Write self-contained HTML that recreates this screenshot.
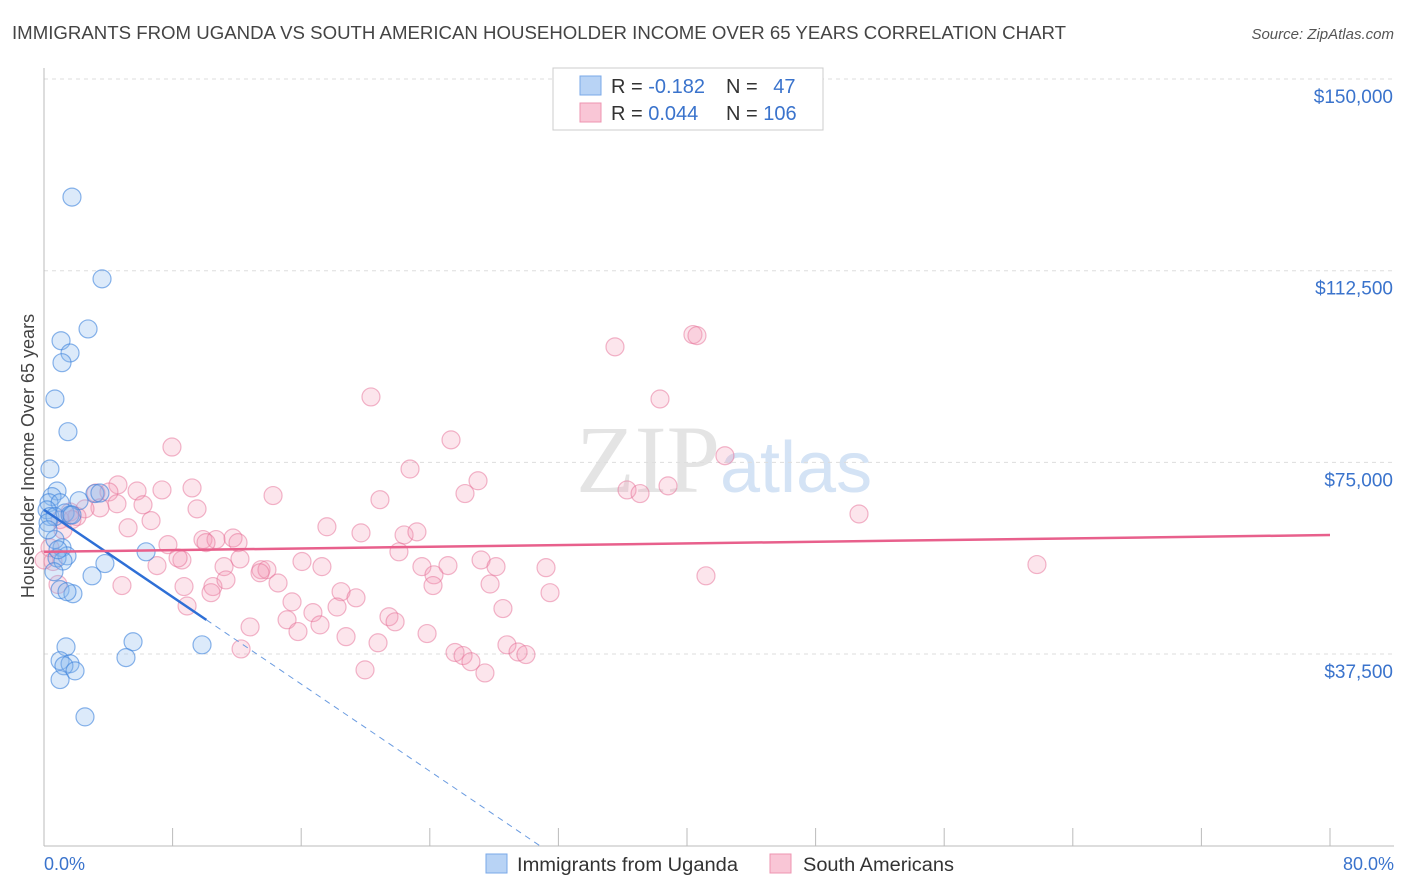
<!DOCTYPE html>
<html><head><meta charset="utf-8"><style>
body{margin:0;background:#fff;font-family:"Liberation Sans",sans-serif}
svg{display:block}
</style></head><body>
<svg id="chart" width="1406" height="892">
<text x="12" y="39" font-size="18" fill="#444" textLength="1054" lengthAdjust="spacingAndGlyphs">IMMIGRANTS FROM UGANDA VS SOUTH AMERICAN HOUSEHOLDER INCOME OVER 65 YEARS CORRELATION CHART</text>
<text x="1394" y="39" font-size="15" fill="#555" font-style="italic" text-anchor="end">Source: ZipAtlas.com</text>
<text x="720" y="492" font-size="96" fill="#e4e4e4" font-family="Liberation Serif,serif" text-anchor="end">ZIP</text>
<text x="720" y="492" font-size="72" fill="#d4e3f5">atlas</text>
<g id="grid"></g><g id="axes"></g><g id="pts"></g><g id="lines"></g>
<text transform="translate(34,456) rotate(-90)" font-size="18" fill="#444" text-anchor="middle">Householder Income Over 65 years</text>
<g>
<rect x="553" y="68" width="270" height="62" fill="#fff" stroke="#ccc"/>
<rect x="580" y="76" width="21" height="19" fill="#b8d3f5" stroke="#7aa8e8"/>
<rect x="580" y="103" width="21" height="19" fill="#f9c6d6" stroke="#ee94b0"/>
<text x="611" y="93" font-size="20" fill="#333">R = <tspan fill="#3a73cc">-0.182</tspan></text>
<text x="726" y="93" font-size="20" fill="#333">N = <tspan fill="#3a73cc" dx="10">47</tspan></text>
<text x="611" y="120" font-size="20" fill="#333">R = <tspan fill="#3a73cc">0.044</tspan></text>
<text x="726" y="120" font-size="20" fill="#333">N = <tspan fill="#3a73cc">106</tspan></text>
</g>
<g>
<rect x="486" y="854" width="21" height="19" fill="#b8d3f5" stroke="#7aa8e8"/>
<text x="517" y="871" font-size="19" fill="#333" textLength="221" lengthAdjust="spacingAndGlyphs">Immigrants from Uganda</text>
<rect x="770" y="854" width="21" height="19" fill="#f9c6d6" stroke="#ee94b0"/>
<text x="803" y="871" font-size="19" fill="#333" textLength="151" lengthAdjust="spacingAndGlyphs">South Americans</text>
</g>
</svg>
<script>
const yTicks=[37500,75000,112500,150000];
const yTickLabels=["$37,500","$75,000","$112,500","$150,000"];
const xTicks=[0,8,16,24,32,40,48,56,64,72,80];
const xEndLabels=["0.0%","80.0%"];
const blueX=[1.74,3.61,2.74,1.06,1.62,1.12,0.68,1.49,0.37,0.81,0.50,0.31,1.00,2.18,0.19,0.37,0.68,0.25,1.31,1.62,3.17,1.12,1.43,0.81,1.18,0.62,1.00,1.80,1.43,3.79,2.99,6.35,1.37,1.00,1.62,1.24,1.93,1.00,5.54,5.10,9.83,2.55,0.68,0.87,0.25,1.74,3.48];
const blueY=[126.9,110.9,101.1,98.8,96.4,94.5,87.4,81.0,73.7,69.4,68.3,67.1,67.1,67.5,65.7,64.4,64.4,63.2,65.1,64.7,68.9,58.3,56.7,56.3,55.7,53.6,50.1,49.3,49.7,55.2,52.8,57.5,38.9,36.2,35.6,35.2,34.2,32.5,39.9,36.8,39.3,25.2,59.9,57.9,61.8,64.7,69.0];
const pinkX=[40.37,40.62,35.52,20.34,38.32,25.32,7.96,22.77,42.36,27.0,26.19,20.9,14.25,36.27,37.08,38.82,4.60,5.79,7.34,9.21,3.23,4.04,3.48,4.54,2.55,1.62,1.00,6.66,5.23,6.16,9.52,9.89,10.70,11.76,12.07,7.71,10.08,8.58,8.34,12.19,11.20,13.50,13.87,13.44,14.56,8.71,7.03,4.85,17.60,19.72,22.40,23.20,22.08,23.51,24.26,25.13,27.19,28.12,24.20,27.75,16.05,17.29,15.43,15.12,16.73,18.48,19.41,18.23,17.17,18.79,20.78,21.46,21.84,23.83,10.51,11.32,10.39,8.90,12.82,12.26,15.80,19.97,25.57,26.07,26.56,27.43,28.80,29.49,29.98,31.23,31.48,28.55,41.18,50.70,61.77,0.87,0.56,1.18,2.05,0.37,1.74,0.0];
const pinkY=[100.0,99.8,97.6,87.8,87.4,79.4,78.0,73.7,76.3,71.4,68.9,67.7,68.5,69.6,68.9,70.4,70.6,69.4,69.6,70.0,69.0,69.2,66.1,66.9,65.9,65.3,63.8,63.6,62.2,66.7,65.9,59.9,59.9,60.2,59.3,58.9,59.3,55.9,56.3,56.1,54.6,54.0,54.0,53.4,51.4,50.7,54.8,50.9,62.4,61.2,60.8,61.4,57.5,54.6,53.0,54.8,55.9,54.6,50.9,51.2,55.6,54.6,47.7,44.2,45.6,49.7,48.5,46.7,43.2,40.9,39.7,44.8,43.8,41.5,50.7,52.0,49.5,46.9,42.8,38.5,41.9,34.4,37.8,37.2,36.0,33.8,39.3,37.9,37.4,54.4,49.5,46.4,52.8,64.9,55.0,51.1,55.6,61.8,64.4,58.3,63.8,55.9];
const blueTrend=[65.7,-2.13];
const pinkTrend=[57.5,0.041];
const blueSolidEnd=10.1;

const NS="http://www.w3.org/2000/svg";
const sx=v=>44+v*16.075;
const sy=v=>845.7-v*191.67/37500;
const syk=k=>sy(k*1000);
function mk(tag,attrs,parent){const e=document.createElementNS(NS,tag);for(const k in attrs)e.setAttribute(k,attrs[k]);document.getElementById(parent).appendChild(e);return e;}
yTicks.forEach((t,i)=>{
 const l=mk('line',{x1:44,x2:1394,y1:sy(t),y2:sy(t),stroke:'#ddd','stroke-dasharray':'4,4'},'grid');
 
 
 const tx=mk('text',{x:1393,y:sy(t)+24,'font-size':19,fill:'#3a73cc','text-anchor':'end'},'grid');
 tx.textContent=yTickLabels[i];
 
 
});
const ya=mk('line',{x1:44,x2:44,y1:68,y2:846,stroke:'#bbb'},'axes');


const xa=mk('line',{x1:44,x2:1394,y1:846,y2:846,stroke:'#bbb'},'axes');


xTicks.forEach(t=>{
 const l=mk('line',{x1:sx(t),x2:sx(t),y1:828,y2:846,stroke:'#bbb'},'axes');
 
 
});
[[0,'start',44],[80,'end',1394]].forEach((d,i)=>{
 const tx=mk('text',{x:d[2],y:870,'font-size':18,fill:'#3a73cc','text-anchor':d[1]},'axes');
 tx.textContent=xEndLabels[i];
 
 
});
pinkX.forEach((x,i)=>{
 const c=mk('circle',{cx:sx(x),cy:syk(pinkY[i]),r:9,fill:'rgba(244,150,180,0.25)',stroke:'rgba(230,110,150,0.5)','stroke-width':1.2},'pts');
 
 
});
blueX.forEach((x,i)=>{
 const c=mk('circle',{cx:sx(x),cy:syk(blueY[i]),r:9,fill:'rgba(140,185,240,0.3)',stroke:'rgba(60,130,220,0.6)','stroke-width':1.2},'pts');
 
 
});
const bz=-blueTrend[0]/blueTrend[1];
const b1=mk('line',{x1:sx(0),y1:syk(blueTrend[0]),x2:sx(blueSolidEnd),y2:syk(blueTrend[0]+blueTrend[1]*blueSolidEnd),stroke:'#2e6fd6','stroke-width':2.5},'lines');


const b2=mk('line',{x1:sx(blueSolidEnd),y1:syk(blueTrend[0]+blueTrend[1]*blueSolidEnd),x2:sx(bz),y2:syk(0),stroke:'#6a9be0','stroke-width':1,'stroke-dasharray':'6,5'},'lines');


const p1=mk('line',{x1:sx(0),y1:syk(pinkTrend[0]),x2:sx(80),y2:syk(pinkTrend[0]+pinkTrend[1]*80),stroke:'#e8608c','stroke-width':2.5},'lines');


</script>
</body></html>
